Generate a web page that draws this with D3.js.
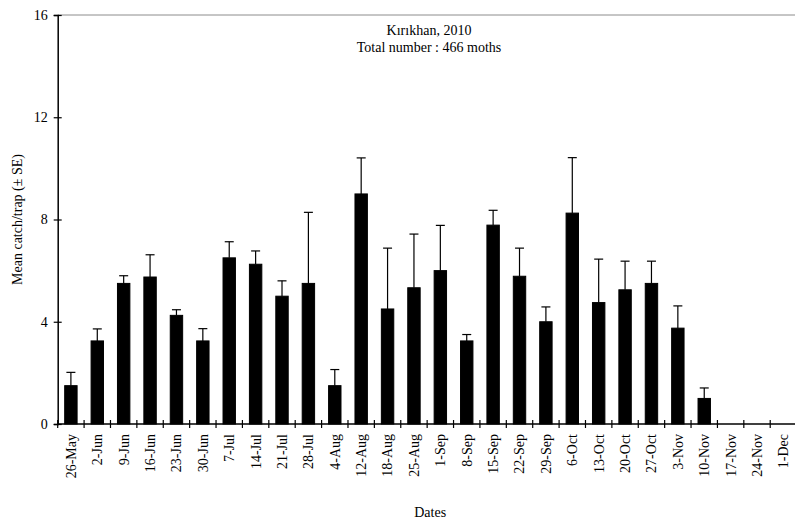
<!DOCTYPE html>
<html>
<head>
<meta charset="utf-8">
<script src="https://cdn.jsdelivr.net/npm/d3@7"></script>
<style>
  body { margin: 0; background: #fff; }
  svg { display: block; font-family: "Liberation Serif", "Times New Roman", serif; }
</style>
</head>
<body>
<div id="chart"></div>
<script>
var dates = ['26-May', '2-Jun', '9-Jun', '16-Jun', '23-Jun', '30-Jun', '7-Jul', '14-Jul',
  '21-Jul', '28-Jul', '4-Aug', '12-Aug', '18-Aug', '25-Aug', '1-Sep', '8-Sep', '15-Sep',
  '22-Sep', '29-Sep', '6-Oct', '13-Oct', '20-Oct', '27-Oct', '3-Nov', '10-Nov', '17-Nov',
  '24-Nov', '1-Dec'];

var means = [1.5, 3.25, 5.5, 5.75, 4.25, 3.25, 6.5, 6.25,
  5.0, 5.5, 1.5, 9.0, 4.5, 5.33, 6.0, 3.25, 7.78,
  5.78, 4.0, 8.25, 4.75, 5.25, 5.5, 3.75, 1.0, 0,
  0, 0];

var errors = [0.52, 0.47, 0.3, 0.87, 0.22, 0.48, 0.63, 0.52,
  0.6, 2.78, 0.63, 1.41, 2.38, 2.1, 1.77, 0.25, 0.58,
  1.1, 0.58, 2.17, 1.7, 1.12, 0.87, 0.87, 0.41, 0,
  0, 0];

var yTicks = [0, 4, 8, 12, 16];

var titleLines = ['Kırıkhan, 2010', 'Total number : 466 moths'];

var width = 795, height = 522;
var margin = { left: 57.7, right: -1.6, top: 15, bottom: 98 };

var svg = d3.select('#chart').append('svg')
  .attr('width', width)
  .attr('height', height);

var x = d3.scaleBand()
  .domain(dates)
  .range([margin.left, width - margin.right])
  .padding(0);

var y = d3.scaleLinear()
  .domain([0, 16])
  .range([height - margin.bottom, margin.top]);

var barWidth = x.bandwidth() * 0.47;

// top frame line
svg.append('line')
  .attr('x1', margin.left)
  .attr('x2', width)
  .attr('y1', y(16))
  .attr('y2', y(16))
  .attr('stroke', '#8c8c8c')
  .attr('stroke-width', 1);

// bars
svg.selectAll('rect.bar')
  .data(dates)
  .enter()
  .append('rect')
  .attr('class', 'bar')
  .attr('x', function (d) { return x(d) + x.bandwidth() / 2 - barWidth / 2; })
  .attr('y', function (d, i) { return y(means[i]); })
  .attr('width', barWidth)
  .attr('height', function (d, i) { return y(0) - y(means[i]); })
  .attr('fill', '#000')
  .attr('stroke', '#000')
  .attr('stroke-width', 1);

// error bars
var err = svg.selectAll('g.err')
  .data(dates.filter(function (d, i) { return errors[i] > 0; }))
  .enter()
  .append('g')
  .attr('class', 'err');

err.append('line')
  .attr('x1', function (d) { return x(d) + x.bandwidth() / 2; })
  .attr('x2', function (d) { return x(d) + x.bandwidth() / 2; })
  .attr('y1', function (d) { return y(means[dates.indexOf(d)]); })
  .attr('y2', function (d) {
    var i = dates.indexOf(d);
    return y(means[i] + errors[i]);
  })
  .attr('stroke', '#000')
  .attr('stroke-width', 1.2);

err.append('line')
  .attr('x1', function (d) { return x(d) + x.bandwidth() / 2 - 4.5; })
  .attr('x2', function (d) { return x(d) + x.bandwidth() / 2 + 4.5; })
  .attr('y1', function (d) {
    var i = dates.indexOf(d);
    return y(means[i] + errors[i]);
  })
  .attr('y2', function (d) {
    var i = dates.indexOf(d);
    return y(means[i] + errors[i]);
  })
  .attr('stroke', '#000')
  .attr('stroke-width', 1.2);

// y axis
var yAxis = svg.append('g')
  .attr('transform', 'translate(' + margin.left + ',0)')
  .call(d3.axisLeft(y).tickValues(yTicks).tickSize(4).tickPadding(6));

yAxis.selectAll('.tick line').attr('x1', 4).attr('stroke-width', 1.2);
yAxis.select('.domain').attr('stroke-width', 1.5);
yAxis.selectAll('text')
  .attr('font-size', 14)
  .attr('font-family', '"Liberation Serif", serif')
  .attr('fill', '#000');

// x axis baseline and boundary ticks
svg.append('line')
  .attr('x1', margin.left)
  .attr('x2', width)
  .attr('y1', y(0))
  .attr('y2', y(0))
  .attr('stroke', '#000')
  .attr('stroke-width', 1.5);

svg.selectAll('line.xtick')
  .data(dates)
  .enter()
  .append('line')
  .attr('class', 'xtick')
  .attr('x1', function (d) { return x(d); })
  .attr('x2', function (d) { return x(d); })
  .attr('y1', y(0) - 4)
  .attr('y2', y(0) + 4)
  .attr('stroke', '#000')
  .attr('stroke-width', 1.2);

svg.selectAll('text.xlab')
  .data(dates)
  .enter()
  .append('text')
  .attr('class', 'xlab')
  .attr('transform', function (d) {
    return 'translate(' + (x(d) + x.bandwidth() / 2) + ',' + (y(0) + 10) + ') rotate(-90)';
  })
  .attr('dy', '0.35em')
  .attr('text-anchor', 'end')
  .attr('font-size', 14)
  .text(function (d) { return d; });

// axis titles
svg.append('text')
  .attr('transform', 'translate(22,' + ((y(0) + y(16)) / 2) + ') rotate(-90)')
  .attr('text-anchor', 'middle')
  .attr('font-size', 14)
  .text('Mean catch/trap (± SE)');

svg.append('text')
  .attr('x', (margin.left + width - margin.right) / 2 + 3)
  .attr('y', 517)
  .attr('text-anchor', 'middle')
  .attr('font-size', 14)
  .text('Dates');

// chart title
svg.selectAll('text.title')
  .data(titleLines)
  .enter()
  .append('text')
  .attr('class', 'title')
  .attr('x', 429)
  .attr('y', function (d, i) { return 35 + i * 17; })
  .attr('text-anchor', 'middle')
  .attr('font-size', 14)
  .text(function (d) { return d; });
</script>
</body>
</html>
